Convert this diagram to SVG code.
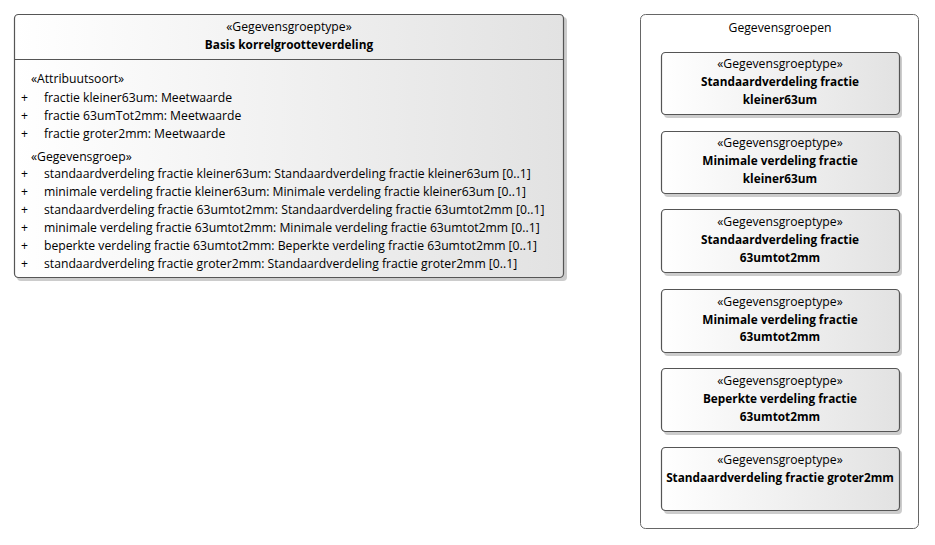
<svg xmlns="http://www.w3.org/2000/svg" width="935" height="545" viewBox="0 0 935 545">
<defs>
<linearGradient id="g" x1="0" y1="0" x2="1" y2="0">
<stop offset="0" stop-color="#ffffff"/>
<stop offset="1" stop-color="#e2e2e2"/>
</linearGradient>
<style>
text{font-family:"Open Sans","Liberation Sans",Arial,sans-serif;font-size:12.2px;fill:#000}
.c{text-anchor:middle}
.b{font-weight:700;font-size:11.8px}
.box{fill:url(#g);stroke:#555;stroke-width:1.2}
.sh{fill:#aaa;opacity:0.6}
.sep{stroke:#555;stroke-width:1.2}
</style>
</defs>
<g id="container">
<rect x="640.5" y="14.5" width="278" height="514" rx="5" fill="#fff" stroke="#666" stroke-width="1"/>
<text class="c" x="780" y="32">Gegevensgroepen</text>
</g>
<g id="basis">
<rect class="sh" x="17" y="17" width="550" height="264" rx="4"/>
<rect class="box" x="14.5" y="14.5" width="549" height="263" rx="4"/>
<line class="sep" x1="14.5" y1="59.5" x2="563.5" y2="59.5"/>
<text class="c" x="289" y="31">«Gegevensgroeptype»</text>
<text class="c b" x="289" y="49">Basis korrelgrootteverdeling</text>
<text x="31" y="83">«Attribuutsoort»</text>
<text x="21" y="102">+</text><text x="44" y="102">fractie kleiner63um: Meetwaarde</text>
<text x="21" y="120">+</text><text x="44" y="120">fractie 63umTot2mm: Meetwaarde</text>
<text x="21" y="138">+</text><text x="44" y="138">fractie groter2mm: Meetwaarde</text>
<text x="31" y="161">«Gegevensgroep»</text>
<text x="21" y="178">+</text><text x="44" y="178">standaardverdeling fractie kleiner63um: Standaardverdeling fractie kleiner63um [0..1]</text>
<text x="21" y="196">+</text><text x="44" y="196">minimale verdeling fractie kleiner63um: Minimale verdeling fractie kleiner63um [0..1]</text>
<text x="21" y="214">+</text><text x="44" y="214">standaardverdeling fractie 63umtot2mm: Standaardverdeling fractie 63umtot2mm [0..1]</text>
<text x="21" y="232">+</text><text x="44" y="232">minimale verdeling fractie 63umtot2mm: Minimale verdeling fractie 63umtot2mm [0..1]</text>
<text x="21" y="250">+</text><text x="44" y="250">beperkte verdeling fractie 63umtot2mm: Beperkte verdeling fractie 63umtot2mm [0..1]</text>
<text x="21" y="268">+</text><text x="44" y="268">standaardverdeling fractie groter2mm: Standaardverdeling fractie groter2mm [0..1]</text>
</g>
<g id="n1">
<rect class="sh" x="664" y="55" width="238" height="63" rx="4"/>
<rect class="box" x="661.5" y="52.5" width="238" height="62" rx="4"/>
<text class="c" x="780" y="68">«Gegevensgroeptype»</text>
<text class="c b" x="780" y="86">Standaardverdeling fractie</text>
<text class="c b" x="780" y="104">kleiner63um</text>
</g>
<g id="n2">
<rect class="sh" x="664" y="134" width="238" height="63" rx="4"/>
<rect class="box" x="661.5" y="131.5" width="238" height="62" rx="4"/>
<text class="c" x="780" y="147">«Gegevensgroeptype»</text>
<text class="c b" x="780" y="165">Minimale verdeling fractie</text>
<text class="c b" x="780" y="183">kleiner63um</text>
</g>
<g id="n3">
<rect class="sh" x="664" y="212" width="238" height="64" rx="4"/>
<rect class="box" x="661.5" y="209.5" width="238" height="63" rx="4"/>
<text class="c" x="780" y="226">«Gegevensgroeptype»</text>
<text class="c b" x="780" y="244">Standaardverdeling fractie</text>
<text class="c b" x="780" y="262">63umtot2mm</text>
</g>
<g id="n4">
<rect class="sh" x="664" y="292" width="238" height="64" rx="4"/>
<rect class="box" x="661.5" y="289.5" width="238" height="63" rx="4"/>
<text class="c" x="780" y="306">«Gegevensgroeptype»</text>
<text class="c b" x="780" y="324">Minimale verdeling fractie</text>
<text class="c b" x="780" y="341">63umtot2mm</text>
</g>
<g id="n5">
<rect class="sh" x="664" y="371" width="238" height="64" rx="4"/>
<rect class="box" x="661.5" y="368.5" width="238" height="63" rx="4"/>
<text class="c" x="780" y="385">«Gegevensgroeptype»</text>
<text class="c b" x="780" y="403">Beperkte verdeling fractie</text>
<text class="c b" x="780" y="421">63umtot2mm</text>
</g>
<g id="n6">
<rect class="sh" x="664" y="450" width="238" height="64" rx="4"/>
<rect class="box" x="661.5" y="447.5" width="238" height="63" rx="4"/>
<text class="c" x="780" y="464">«Gegevensgroeptype»</text>
<text class="c b" x="780" y="482">Standaardverdeling fractie groter2mm</text>
</g>
<g id="connectors"/>
</svg>
